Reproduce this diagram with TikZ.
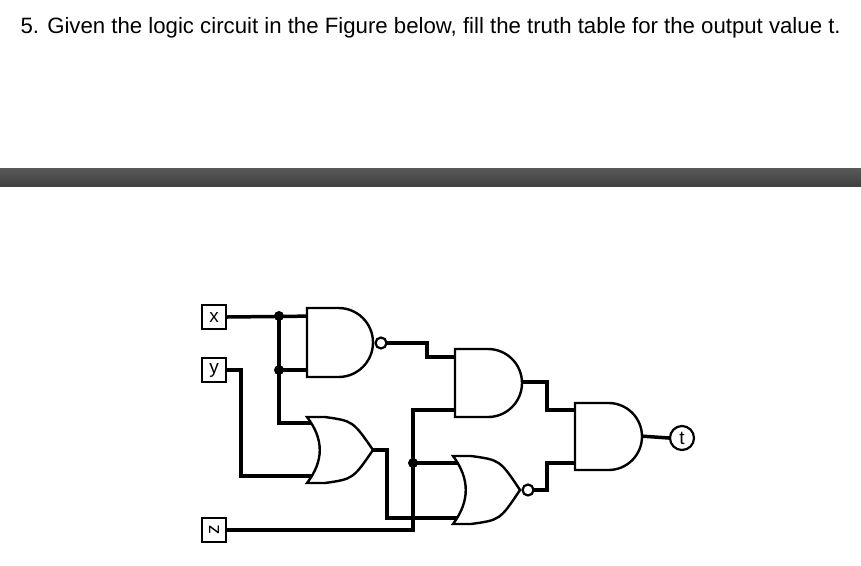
\documentclass[tikz,border=0pt]{standalone}
\usepackage{fontspec}
\setmainfont{Liberation Sans}
\begin{document}
\begin{tikzpicture}[x=1pt,y=-1pt,
  wire/.style={line width=3.5pt,line join=miter},
  gate/.style={line width=2.4pt,fill=white},
  inbox/.style={draw,line width=2.2pt,minimum size=24pt,inner sep=0pt,font=\fontsize{19}{19}\selectfont},
  bub/.style={circle,draw,line width=2.2pt,fill=white,minimum size=11pt,inner sep=0pt},
  dot/.style={circle,fill=black,minimum size=10pt,inner sep=0pt}]
\useasboundingbox (0,0) rectangle (861,565);
\newcommand\andgate[4]{\draw[gate] (#1,#2) -- ({#3-(#4-#2)/2},#2) arc(-90:90:{(#4-#2)/2}) -- (#1,#4) -- cycle;}
\newcommand\orgate[4]{\draw[gate] (#1,#2) -- ({#1+18},#2) .. controls ({#3-20},{#2+4}) .. (#3,{(#2+#4)/2}) .. controls ({#3-20},{#4-4}) .. ({#1+18},#4) -- (#1,#4) .. controls ({#1+17},{#4-(#4-#2)/3}) and ({#1+17},{#2+(#4-#2)/3}) .. (#1,#2) -- cycle;}
\node[anchor=west,font=\fontsize{22.2}{22.2}\selectfont] (title) at (17,28) {5. Given the logic circuit in the Figure below, fill the truth table for the output value t.};
\fill[top color=gray!70!black,bottom color=black!75] (0,168) rectangle (861,186);
\node[inbox] (x) at (214,317) {x};
\node[inbox] (y) at (214,370) {y};
\node[inbox,rotate=90] (z) at (214,530) {z};
\node[circle,draw,line width=2.2pt,minimum size=24pt,inner sep=0pt,font=\fontsize{19}{19}\selectfont] (t) at (682,438) {t};
% wires
\draw[wire] (x.east) -- (320,316);
\draw[wire] (279,316) -- (279,423) -- (320,423);
\draw[wire] (279,370) -- (320,370);
\draw[wire] (y.east) -- (241,370) -- (241,476) -- (325,476);
\draw[wire] (373,450) -- (387,450) -- (387,518) -- (465,518);
\draw[wire] (z.south) -- (413,530) -- (413,410) -- (465,410);
\draw[wire] (413,463) -- (465,463);
\draw[wire] (381,343) -- (427,343) -- (427,357) -- (465,357);
\draw[wire] (522,382) -- (547,382) -- (547,410) -- (585,410);
\draw[wire] (528,490) -- (547,490) -- (547,463) -- (585,463);
\draw[wire] (640,436) -- (t.west);
% gates
\andgate{307}{308}{373}{377}
\orgate{307}{417}{373}{483}
\andgate{455}{349}{522}{417}
\orgate{453}{456}{520}{524}
\andgate{575}{403}{642}{470}
\node[bub] (b1) at (381,343) {};
\node[bub] (b2) at (528,490) {};
\node[dot] (j1) at (279,316) {};
\node[dot] (j2) at (279,370) {};
\node[dot] (j3) at (413,463) {};
\end{tikzpicture}
\end{document}
